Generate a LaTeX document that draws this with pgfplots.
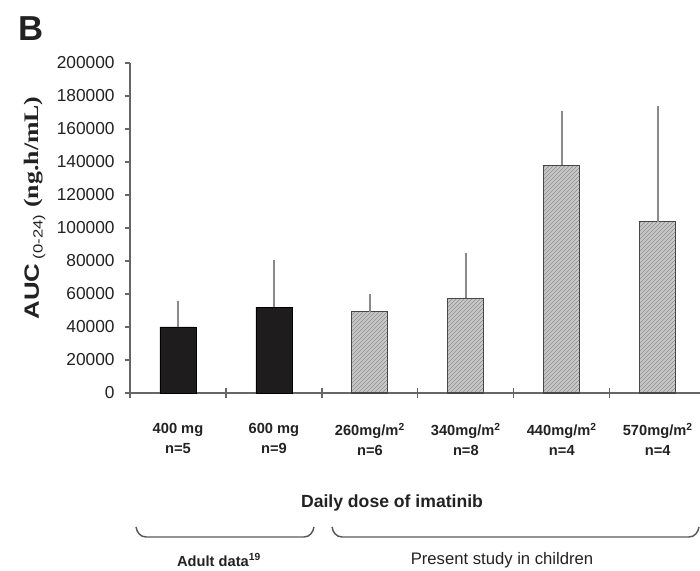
\documentclass[border=0pt]{standalone}
\usepackage{fontspec}
\setmainfont{Liberation Sans}
\newfontfamily\seriffont{Liberation Serif}
\usepackage{pgfplots}
\pgfplotsset{compat=1.18}
\usetikzlibrary{patterns}
\definecolor{txt}{HTML}{222222}
\definecolor{axc}{HTML}{666666}
\definecolor{errc}{HTML}{8A8A8A}
\definecolor{barblack}{HTML}{1E1C1C}
\definecolor{bargray}{HTML}{C9C9C9}
\definecolor{hatch}{HTML}{8C8C8C}
\begin{document}
\begin{tikzpicture}
\path[use as bounding box] (0pt,0pt) rectangle (525pt,428.25pt);
\begin{axis}[
  at={(97.5pt,133.5pt)}, anchor=south west,
  width=427.5pt, height=247.5pt, scale only axis,
  xmin=-0.5, xmax=5.44, ymin=0, ymax=200000,
  axis x line=bottom, axis y line=left,
  axis line style={-, draw=axc, line width=0.9pt},
  clip=false,
  xtick={0,...,5},
  xticklabels={{400 mg\\n=5},{600 mg\\n=9},{260mg/m\textsuperscript{2}\\n=6},{340mg/m\textsuperscript{2}\\n=8},{440mg/m\textsuperscript{2}\\n=4},{570mg/m\textsuperscript{2}\\n=4}},
  major x tick style={draw=none},
  minor xtick={-0.5,0.5,1.5,2.5,3.5,4.5},
  minor tick length=7pt,
  minor x tick style={draw=axc, line width=0.9pt, yshift=3.5pt},
  ytick={0,20000,...,200000},
  major tick length=4pt,
  tick align=outside,
  major y tick style={draw=axc, line width=0.8pt},
  scaled y ticks=false,
  yticklabel={\pgfmathprintnumber[fixed,precision=0,1000 sep={}]{\tick}},
  /pgf/number format/assume math mode=true,
  yticklabel style={font=\fontsize{13}{15}\selectfont, text=txt, xshift=-4pt},
  xticklabel style={font=\bfseries\fontsize{11}{15}\selectfont, text=txt, align=center, yshift=-15pt},
  error bars/y dir=plus, error bars/y explicit,
]
\addplot[ybar, bar width=27pt, bar shift=0pt, fill=barblack, draw=black,
  error bars/error mark=none, error bars/error bar style={draw=errc, line width=1.5pt}]
  table[x=x, y=y, y error=e] {
x y e
0 40000 16000
1 52000 28500
};
\addplot[ybar, bar width=27pt, bar shift=0pt, fill=bargray, draw=gray!55!black, line width=0.8pt,
  postaction={pattern=north east lines, pattern color=hatch},
  error bars/error mark=none, error bars/error bar style={draw=errc, line width=1.5pt}]
  table[x=x, y=y, y error=e] {
x y e
2 49300 11000
3 57400 27600
4 138000 33000
5 103800 70200
};
\end{axis}
\node[font=\bfseries\fontsize{26}{28}\selectfont, text=txt] at (23.5pt,406.5pt) {B};
\node[rotate=90, text=txt] at (26.25pt,272.25pt) {\scalebox{1.25}[1]{\bfseries\fontsize{15.5}{17}\selectfont AUC\,\raisebox{-0.35ex}{\mdseries\fontsize{10}{10}\selectfont(0-24)}\ {\seriffont\bfseries (ng.h/mL)}}};
\node[font=\bfseries\fontsize{13.2}{15}\selectfont, text=txt] at (294pt,51pt) {Daily dose of imatinib};
\draw[draw=gray!70!black, line width=1.1pt] (102pt,33pt) to[out=-80,in=180] (109.5pt,25.5pt) -- (228pt,25.5pt) to[out=0,in=-100] (235.5pt,33pt);
\draw[draw=gray!70!black, line width=1.1pt] (249pt,33pt) to[out=-80,in=180] (256.5pt,25.5pt) -- (516.75pt,25.5pt) to[out=0,in=-100] (524.25pt,33pt);
\node[font=\bfseries\fontsize{11}{12}\selectfont, text=txt] at (164.25pt,8.25pt) {Adult data\textsuperscript{19}};
\node[font=\fontsize{12.5}{13}\selectfont, text=txt] at (376.5pt,8.25pt) {Present study in children};
\end{tikzpicture}
\end{document}
